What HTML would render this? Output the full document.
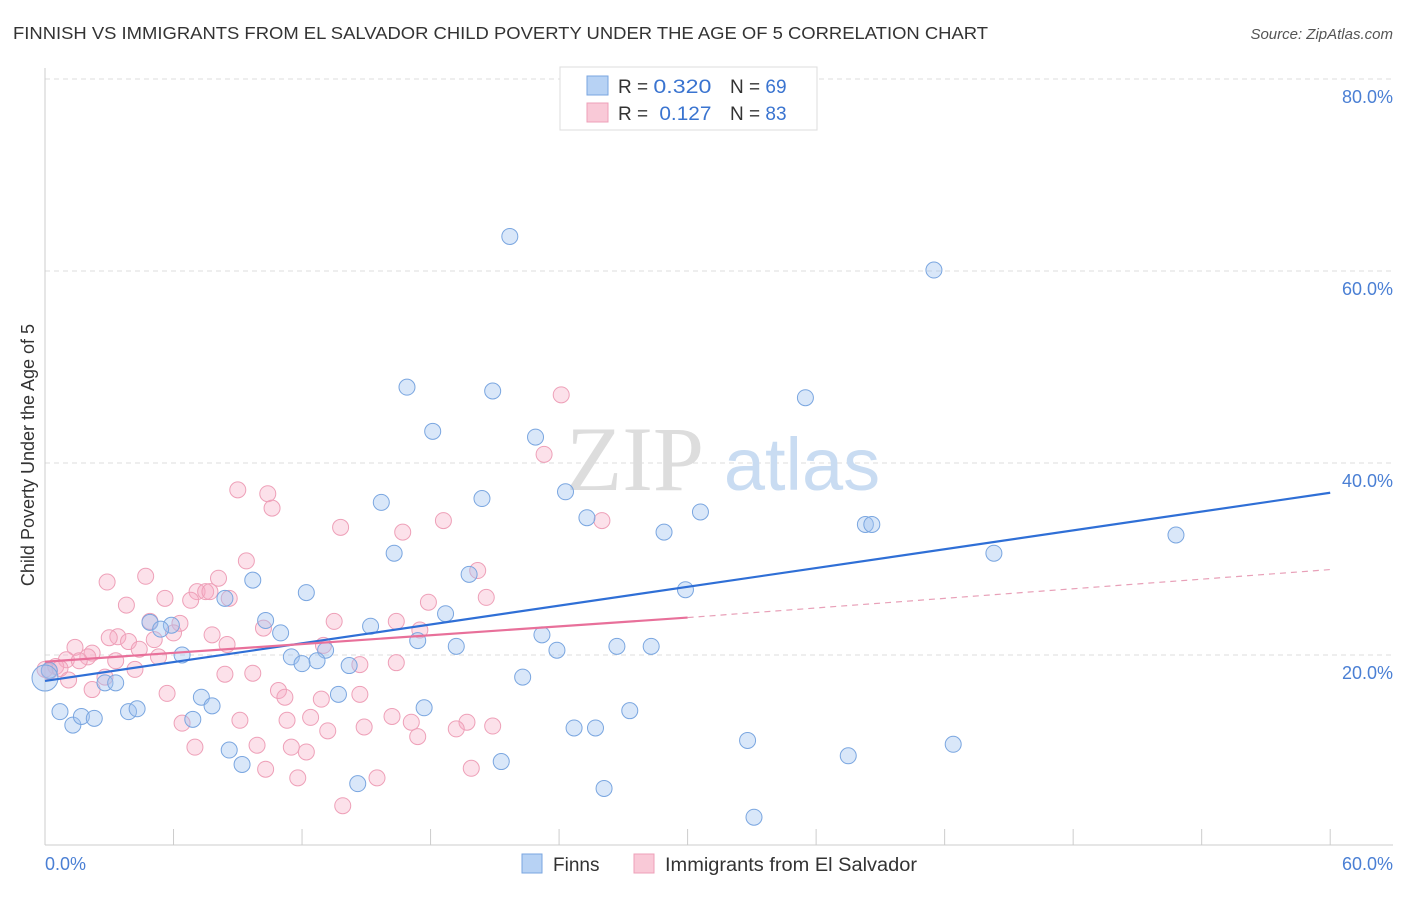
<!DOCTYPE html>
<html><head><meta charset="utf-8"><style>
body{margin:0;background:#fff;font-family:"Liberation Sans",sans-serif;}
svg text{font-family:"Liberation Sans",sans-serif;}
</style></head><body>
<svg id="chart" width="1406" height="892" xmlns="http://www.w3.org/2000/svg">
<text x="13" y="39" font-size="17.5" fill="#333" textLength="975" lengthAdjust="spacingAndGlyphs">FINNISH VS IMMIGRANTS FROM EL SALVADOR CHILD POVERTY UNDER THE AGE OF 5 CORRELATION CHART</text>
<text x="1393" y="39" font-size="15" fill="#555" font-style="italic" text-anchor="end">Source: ZipAtlas.com</text>
<g id="grid"></g>
<g>
<text x="635" y="490" font-size="92" fill="#ddd" font-family="Liberation Serif" text-anchor="middle" style="font-family:'Liberation Serif',serif">ZIP</text>
<text x="802" y="490" font-size="74" fill="#c9dcf2" text-anchor="middle">atlas</text>
</g>
<g id="pts"></g>
<g id="lines"></g>
<text transform="translate(34,455) rotate(-90)" font-size="18" fill="#333" text-anchor="middle">Child Poverty Under the Age of 5</text>
<text x="45" y="870" font-size="18" fill="#4a7fd4">0.0%</text>
<text x="1393" y="870" font-size="18" fill="#4a7fd4" text-anchor="end">60.0%</text>
<g>
<rect x="560" y="67" width="257" height="63" fill="#fff" stroke="#ddd"/>
<rect x="587" y="76" width="21" height="19" fill="#b7d2f4" stroke="#7aa6e0"/>
<rect x="587" y="103" width="21" height="19" fill="#f9c9d7" stroke="#eea0b8"/>
<text x="618" y="93" font-size="19" fill="#333">R = <tspan fill="#3a74d0" textLength="58" lengthAdjust="spacingAndGlyphs">0.320</tspan></text>
<text x="730" y="93" font-size="19" fill="#333">N = <tspan fill="#3a74d0">69</tspan></text>
<text x="618" y="120" font-size="19" fill="#333">R = <tspan fill="#3a74d0" dx="6" textLength="52" lengthAdjust="spacingAndGlyphs">0.127</tspan></text>
<text x="730" y="120" font-size="19" fill="#333">N = <tspan fill="#3a74d0">83</tspan></text>
</g>
<g>
<rect x="522" y="854" width="20" height="19" fill="#b7d2f4" stroke="#7aa6e0"/>
<text x="553" y="871" font-size="19" fill="#333">Finns</text>
<rect x="634" y="854" width="20" height="19" fill="#f9c9d7" stroke="#eea0b8"/>
<text x="665" y="871" font-size="19" fill="#333" textLength="252" lengthAdjust="spacingAndGlyphs">Immigrants from El Salvador</text>
</g>
</svg>
<script>
const yTicks=[20,40,60,80];
const xTicks=[0,6,12,18,24,30,36,42,48,54,60];
const blueX=[21.7,41.5,16.9,20.9,35.5,18.1,22.9,24.3,15.7,20.4,30.6,25.3,28.9,38.3,38.6,52.8,44.3,16.3,19.8,9.7,29.9,12.2,8.4,18.7,10.3,4.9,5.9,5.4,15.2,11.0,23.2,17.4,26.7,28.3,19.2,13.1,23.9,6.4,11.5,12.7,12.0,14.2,2.8,3.3,22.3,13.7,7.3,0.7,1.3,1.7,2.3,3.9,4.3,6.9,7.8,17.7,27.3,24.7,25.7,32.8,42.4,8.6,9.2,21.3,37.5,14.6,26.1,33.1,0.2];
const blueY=[63.6,60.1,47.9,47.5,46.8,43.3,42.7,37.0,35.9,36.3,34.9,34.3,32.8,33.6,33.6,32.5,30.6,30.6,28.4,27.8,26.8,26.5,25.9,24.3,23.6,23.4,23.1,22.7,23.0,22.3,22.1,21.5,20.9,20.9,20.9,20.5,20.5,20.0,19.8,19.4,19.1,18.9,17.1,17.1,17.7,15.9,15.6,14.1,12.7,13.6,13.4,14.1,14.4,13.3,14.7,14.5,14.2,12.4,12.4,11.1,10.7,10.1,8.6,8.9,9.5,6.6,6.1,3.1,18.4];
const pinkX=[24.1,23.3,9.0,10.4,10.6,13.8,18.6,26.0,16.7,9.4,20.2,2.9,4.7,8.1,7.1,7.5,7.7,8.6,5.6,6.8,3.8,20.6,17.9,4.9,13.5,16.4,6.3,10.2,6.0,7.8,3.4,3.0,17.5,1.4,3.9,5.1,8.5,13.0,4.4,2.2,2.0,1.0,5.3,3.3,1.6,14.7,16.4,0.5,0,0.2,0.7,1.1,4.2,8.4,9.7,2.8,2.2,5.7,10.9,11.2,12.9,14.7,16.2,12.4,11.3,6.4,9.1,17.1,19.7,20.9,19.2,13.2,7.0,9.9,11.5,12.2,17.4,14.9,10.3,11.8,15.5,19.9,13.9];
const pinkY=[47.1,40.9,37.2,36.8,35.3,33.3,34.0,34.0,32.8,29.8,28.8,27.6,28.2,28.0,26.6,26.6,26.6,25.9,25.9,25.7,25.2,26.0,25.5,23.5,23.5,23.5,23.3,22.8,22.3,22.1,21.9,21.8,22.6,20.8,21.4,21.6,21.1,21.0,20.6,20.2,19.8,19.5,19.8,19.4,19.4,19.0,19.2,18.8,18.5,18.3,18.6,17.4,18.5,18.0,18.1,17.7,16.4,16.0,16.3,15.6,15.4,15.9,13.6,13.5,13.2,12.9,13.2,13.0,13.0,12.6,12.3,12.1,10.4,10.6,10.4,9.9,11.5,12.5,8.1,7.2,7.2,8.2,4.3];
const blueTrend=[17.3,36.9];
const pinkTrend=[19.3,23.9,28.9];
const NS='http://www.w3.org/2000/svg';
const sx=v=>45+v*21.42, sy=v=>847-v*9.6;
function mk(t,a,p){const e=document.createElementNS(NS,t);for(const k in a)e.setAttribute(k,a[k]);p.appendChild(e);return e;}
const g=document.getElementById('grid');
yTicks.forEach(t=>{
 const l=mk('line',{x1:45,x2:1393,y1:sy(t),y2:sy(t),stroke:'#ddd','stroke-dasharray':'5,4'},g);
 
 
 const tx=mk('text',{x:1393,y:sy(t)+24,'font-size':18,fill:'#4a7fd4','text-anchor':'end'},g);
 tx.textContent=t.toFixed(1)+'%';
 
 
});
const ax=mk('line',{x1:45,x2:1393,y1:845,y2:845,stroke:'#ccc'},g);


const ay=mk('line',{x1:45,x2:45,y1:68,y2:845,stroke:'#ccc'},g);


xTicks.forEach(t=>{
 const l=mk('line',{x1:sx(t),x2:sx(t),y1:829,y2:845,stroke:'#ccc'},g);
 
 
});
const pg=document.getElementById('pts');
pinkX.forEach((x,i)=>{
 const c=mk('circle',{cx:sx(x),cy:sy(pinkY[i]),r:8,fill:'rgba(245,170,195,0.35)',stroke:'#eea0b8','stroke-width':1},pg);
 
 
});
blueX.forEach((x,i)=>{
 const c=mk('circle',{cx:sx(x),cy:sy(blueY[i]),r:8,fill:'rgba(160,196,240,0.4)',stroke:'#7aa6e0','stroke-width':1},pg);
 
 
});
const big=mk('circle',{cx:sx(0),cy:sy(17.6),r:13,fill:'rgba(160,196,240,0.4)',stroke:'#7aa6e0'},pg);


const lg=document.getElementById('lines');
const bl=mk('line',{x1:sx(0),y1:sy(blueTrend[0]),x2:sx(60),y2:sy(blueTrend[1]),stroke:'#2f6fd6','stroke-width':2.2},lg);


const pl=mk('line',{x1:sx(0),y1:sy(pinkTrend[0]),x2:sx(30),y2:sy(pinkTrend[1]),stroke:'#e8709a','stroke-width':2.2},lg);


const pd=mk('line',{x1:sx(30),y1:sy(pinkTrend[1]),x2:sx(60),y2:sy(pinkTrend[2]),stroke:'#e8a0b8','stroke-width':1.2,'stroke-dasharray':'6,5'},lg);


</script>
</body></html>
